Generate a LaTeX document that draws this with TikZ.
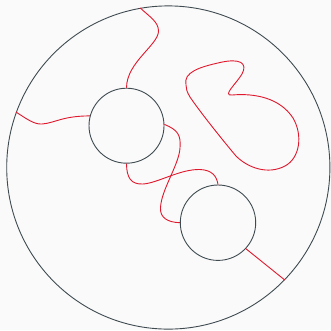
\documentclass[tikz,border=0pt]{standalone}
\usepackage{xcolor}
\definecolor{rimgray}{HTML}{3F4B51}
\definecolor{cordred}{HTML}{E0182D}
\definecolor{paper}{HTML}{FAFAFA}
\usepackage{tikz}
\usetikzlibrary{positioning}

\begin{document}
\begin{tikzpicture}[x=1pt,y=-1pt]
\tikzset{
 disk/.style={draw=rimgray,circle,line width=0.9pt,inner sep=0pt,minimum size=#1},
 strand/.style={draw=cordred,line width=0.9pt}
}
\fill[paper] (0,0) rectangle (331,330);
\useasboundingbox (0,0) rectangle (331,330);
\node[disk=323.2pt] (outer) at (168.3,167.5) {};
\node[disk=75pt] (holeA) at (126.5,125.7) {};
\node[disk=75.4pt] (holeB) at (218,222.7) {};
% strands meeting the rim
\draw[strand] (outer.100.7) .. controls (150,17) and (158.5,22) .. (158.5,31)
 .. controls (158.5,45) and (126.7,62) .. (holeA.north);
\draw[strand] (outer.160.3) .. controls (27,119) and (34,124.5) .. (42,124)
 .. controls (55,123) and (62,116) .. (holeA.165);
\draw[strand] (holeB.-43.5) -- (outer.-44.2);
% strands between the holes
\draw[strand] (holeA.2) .. controls (178,130) and (181,135) .. (180,148)
 .. controls (179,165) and (161,190) .. (160.5,208)
 .. controls (160,218) and (168,222.3) .. (holeB.west);
\draw[strand] (holeA.south) .. controls (126.7,178) and (131,184.5) .. (143,184)
 .. controls (158,183) and (180,169) .. (200,169.5)
 .. controls (212,170) and (216.7,176) .. (holeB.north);
% free loop
\draw[strand] (186,85) .. controls (183,72) and (200,67) .. (220,62.5)
 .. controls (240,58) and (248,63) .. (242,74)
 .. controls (236,84) and (222,96) .. (232,95)
 .. controls (255,93) and (280,98) .. (293,118)
 .. controls (303,135) and (300,158) .. (285,166)
 .. controls (268,175) and (248,168) .. (236,156)
 .. controls (225,143) and (200,112) .. (190,97)
 .. controls (187,92) and (186,89) .. cycle;
\end{tikzpicture}
\end{document}
